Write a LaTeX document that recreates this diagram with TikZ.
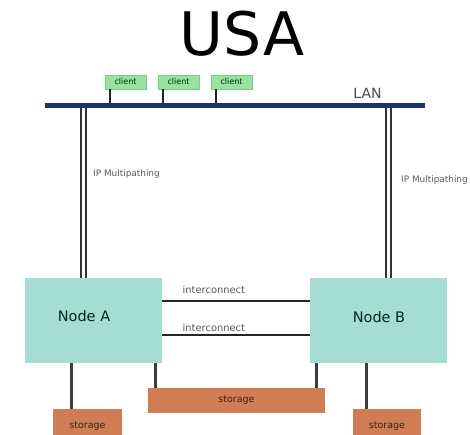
\documentclass[tikz,border=0pt]{standalone}
\usepackage{fontspec}
\setmainfont{DejaVu Sans}
\begin{document}
\definecolor{lanblue}{RGB}{30,50,105}
\definecolor{clientgreen}{RGB}{150,226,160}
\definecolor{clientedge}{RGB}{125,205,135}
\definecolor{nodeteal}{RGB}{166,221,211}
\definecolor{storebrown}{RGB}{208,124,84}
\definecolor{wire}{RGB}{60,60,60}
\begin{tikzpicture}[x=1pt,y=-1pt,
  titletext/.style={font=\fontsize{60}{60}\selectfont, text=black, inner sep=0pt},
  lanbar/.style={fill=lanblue, draw=none, minimum width=380pt, minimum height=5pt, inner sep=0pt},
  client/.style={fill=clientgreen, draw=clientedge, line width=0.6pt, minimum width=41pt, minimum height=14pt, inner sep=0pt,
    font=\fontsize{8}{8}\selectfont, text=black!60!green!40!black},
  clusternode/.style={fill=nodeteal, draw=none, minimum width=137pt, minimum height=85pt, inner sep=0pt},
  nodetext/.style={font=\fontsize{14.5}{15}\selectfont, text=black!70!teal},
  storagebox/.style={fill=storebrown, draw=none, inner sep=0pt, font=\fontsize{9.5}{10}\selectfont, text=black!70!brown},
  smalltext/.style={font=\fontsize{8.9}{10}\selectfont, text=black!65, inner sep=0pt},
  linktext/.style={smalltext, font=\fontsize{9.9}{10}\selectfont},
  stub/.style={draw=black!85, line width=1.8pt},
  dualpath/.style={draw=black!80, line width=2pt, double=white, double distance=3pt},
  link/.style={draw=black!85, line width=2pt},
  storelink/.style={draw=wire, line width=3pt}
]
\useasboundingbox (0,0) rectangle (470,435);

% title
\node[titletext] (title) at (242,34) {USA};

% LAN backbone and its label
\node[lanbar] (lan) at (235,105.5) {};
\node[font=\fontsize{14}{14}\selectfont, text=black!70, inner sep=0pt] (lanlabel) at (367.5,93) {LAN};

% clients on the LAN
\node[client] (c1) at (125.5,82) {client};
\node[client] (c2) at (178.5,82) {client};
\node[client] (c3) at (231.5,82) {client};
\foreach \c in {c1,c2,c3}
  \draw[stub] ([xshift=5pt]\c.south west) -- ([xshift=5pt]\c.south west |- lan.north);

% cluster nodes
\node[clusternode, label={[nodetext, xshift=-9.5pt, yshift=4.5pt]center:Node A}] (nA) at (93.5,320.5) {};
\node[clusternode, label={[nodetext, xshift=0.5pt, yshift=3.5pt]center:Node B}] (nB) at (378.5,320.5) {};

% IP multipathing uplinks
\draw[dualpath] ([xshift=-10.5pt]nA.north |- lan.south) -- ([xshift=-10.5pt]nA.north);
\draw[dualpath] ([xshift=9.5pt]nB.north |- lan.south) -- ([xshift=9.5pt]nB.north);
\node[smalltext, anchor=west] (ipa) at (93,174) {IP Multipathing};
\node[smalltext, anchor=west] (ipb) at (401,180) {IP Multipathing};

% interconnects between the nodes
\draw[link] ([yshift=19.5pt]nA.east) -- ([yshift=19.5pt]nA.east -| nB.west)
  node[linktext, pos=0.35, above=6pt] (ic1) {interconnect};
\draw[link] ([yshift=-14.5pt]nA.east) -- ([yshift=-14.5pt]nA.east -| nB.west)
  node[linktext, pos=0.35, above=2.5pt] (ic2) {interconnect};

% storage
\node[storagebox, minimum width=177pt, minimum height=25pt] (shared) at (236.5,400.5) {storage};
\node[storagebox, minimum width=69pt, minimum height=32pt, text depth=0pt] (sa) at (87.5,425) {storage};
\node[storagebox, minimum width=68pt, minimum height=32pt, text depth=0pt] (sb) at (387,425) {storage};

\draw[storelink] ([xshift=47pt]nA.south west) -- ([xshift=47pt]nA.south west |- sa.north);
\draw[storelink] ([xshift=-7pt]nA.south east) -- ([xshift=-7pt]nA.south east |- shared.north);
\draw[storelink] ([xshift=7pt]nB.south west) -- ([xshift=7pt]nB.south west |- shared.north);
\draw[storelink] ([xshift=57pt]nB.south west) -- ([xshift=57pt]nB.south west |- sb.north);
\end{tikzpicture}
\end{document}
